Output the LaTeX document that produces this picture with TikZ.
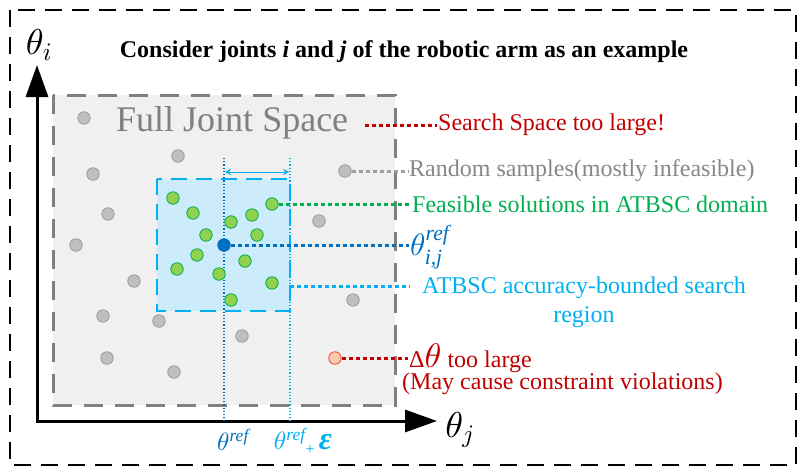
\RequirePackage{fix-cm}
\documentclass[tikz,border=0pt]{standalone}
\usepackage{amsmath,amssymb}
\usepackage{fontspec}
\setmainfont{Liberation Serif}
\DeclareFontShape{OML}{cmm}{m}{it}{<->cmmi10}{}
\usetikzlibrary{arrows.meta}

\definecolor{darkred}{RGB}{192,0,0}
\definecolor{refblue}{RGB}{0,112,192}
\definecolor{skyblue}{RGB}{0,176,240}
\definecolor{okgreen}{RGB}{0,176,80}
\definecolor{boxgray}{RGB}{128,128,128}
\definecolor{labelgray}{RGB}{135,135,135}
\definecolor{linkgray}{RGB}{160,160,160}
\definecolor{spacefill}{RGB}{240,240,240}
\definecolor{regionfill}{RGB}{204,236,252}
\definecolor{dotgray}{RGB}{191,191,191}
\definecolor{dotedge}{RGB}{155,155,155}
\definecolor{dotgreen}{RGB}{146,208,80}
\definecolor{dotred}{RGB}{248,203,173}

\tikzset{
	sample/.style={circle,draw=dotedge,fill=dotgray,line width=0.8pt,minimum size=12.5pt,inner sep=0pt},
	feasible/.style={sample,draw=okgreen,fill=dotgreen},
	lbl/.style={right,inner sep=1pt,font=\fontsize{24}{28}\selectfont},
	link/.style={line width=3pt,dash pattern=on 4pt off 3pt},
	guide/.style={line width=1.2pt,dotted},
	axis/.style={line width=3pt,{Triangle[length=32pt,width=22pt]}-{Triangle[length=32pt,width=22pt]}},
}

\begin{document}
\begin{tikzpicture}[x=1pt,y=-1pt]
	\useasboundingbox (0,0) rectangle (806,475);
	\draw[line width=2pt,dash pattern=on 17pt off 10pt] (10,10) rectangle (796,465);

	\node[font=\fontsize{24}{28}\selectfont\bfseries] (title) at (404,52) {Consider joints \textit{i} and \textit{j} of the robotic arm as an example};

	\draw[boxgray,fill=spacefill,line width=3pt,dash pattern=on 19pt off 12pt] (53,95) rectangle (395,405);
	\draw[skyblue,fill=regionfill,line width=2.5pt,dash pattern=on 16pt off 9pt] (157,179) rectangle (290,311);
	\node[right,inner sep=1pt,boxgray,font=\fontsize{36}{40}\selectfont] (fjs) at (115,123) {Full Joint Space};

	\coordinate (origin) at (37,421);
	\coordinate (ytip) at (37,65);
	\coordinate (xtip) at (437,421);
	\draw[axis] (ytip) -- (origin) -- (xtip);
	\node[font=\fontsize{36}{36}\selectfont] (thi) at (39,45) {$\theta_i$};
	\node[font=\fontsize{36}{36}\selectfont] (thj) at (460,430) {$\theta_j$};

	\coordinate (reftop) at (224,158);
	\coordinate (refbot) at (224,421);
	\coordinate (epstop) at (290,158);
	\coordinate (epsbot) at (290,421);
	\draw[guide,refblue] (reftop) -- (refbot);
	\draw[guide,skyblue] (epstop) -- (epsbot);
	\coordinate (epsl) at (225,172);
	\coordinate (epsr) at (289,172);
	\draw[skyblue,line width=1pt,{Stealth[length=6pt,width=6pt]}-{Stealth[length=6pt,width=6pt]}] (epsl) -- (epsr);

	\node[sample] (s1) at (84,118) {};
	\node[sample] (s2) at (178,156) {};
	\node[sample] (s3) at (93,174) {};
	\node[sample] (s4) at (108,214) {};
	\node[sample] (s5) at (345,171) {};
	\node[sample] (s6) at (319,221) {};
	\node[sample] (s7) at (76,245) {};
	\node[sample] (s8) at (134,281) {};
	\node[sample] (s9) at (103,316) {};
	\node[sample] (s10) at (159,321) {};
	\node[sample] (s11) at (353,300) {};
	\node[sample] (s12) at (242,336) {};
	\node[sample] (s13) at (107,358) {};
	\node[sample] (s14) at (174,372) {};

	\node[feasible] (f1) at (173,198) {};
	\node[feasible] (f2) at (193,213) {};
	\node[feasible] (f3) at (231,222) {};
	\node[feasible] (f4) at (252,215) {};
	\node[feasible] (f5) at (272,204) {};
	\node[feasible] (f6) at (206,235) {};
	\node[feasible] (f7) at (257,235) {};
	\node[feasible] (f8) at (197,255) {};
	\node[feasible] (f9) at (245,261) {};
	\node[feasible] (f10) at (177,269) {};
	\node[feasible] (f11) at (219,274) {};
	\node[feasible] (f12) at (272,283) {};
	\node[feasible] (f13) at (231,300) {};

	\node[sample,draw=refblue,fill=refblue] (ref) at (224,245) {};
	\node[sample,draw=red!75,fill=dotred] (bad) at (335,358) {};

	\node[lbl,darkred] (search) at (437,125) {Search Space too large!};
	\node[lbl,labelgray] (random) at (408,171) {Random samples(mostly infeasible)};
	\node[lbl,okgreen] (feas) at (411,204) {Feasible solutions in ATBSC domain};
	\node[lbl,refblue,font=\fontsize{31}{31}\selectfont] (reflbl) at (409,247) {$\theta^{\textit{ref}}_{\textit{i,j}}$};
	\node[skyblue,align=center,anchor=north,inner sep=0pt,font=\fontsize{24}{29}\selectfont] (atbsc) at (584,277) {ATBSC accuracy-bounded search\\region};
	\node[lbl,darkred] (dtheta) at (408,358) {Δ{\fontsize{34}{34}\selectfont$\theta$} too large};
	\node[lbl,darkred] (maycause) at (401,384) {(May cause constraint violations)};

	\node[refblue,font=\fontsize{25}{25}\selectfont] (thref) at (233,440) {$\theta^{\textit{ref}}$};
	\node[skyblue,font=\fontsize{25}{25}\selectfont] (threps) at (303,441) {$\theta^{\textit{ref}}$\raisebox{-5pt}{\fontsize{16}{16}\selectfont +}\,{\fontsize{32}{32}\selectfont\bfseries\itshape ε}};

	\coordinate (fjsend) at (365,125);
	\coordinate (regionend) at (290,286);
	\coordinate (atbscend) at (410,286);
	\draw[link,darkred] (fjsend) -- (search.west);
	\draw[link,linkgray] (s5.east) -- (random.west);
	\draw[link,okgreen] (f5.east) -- (feas.west);
	\draw[link,refblue] (ref.east) -- (reflbl.west |- ref);
	\draw[link,skyblue] (regionend) -- (atbscend);
	\draw[link,darkred] (bad.east) -- (dtheta.west);
\end{tikzpicture}
\end{document}
